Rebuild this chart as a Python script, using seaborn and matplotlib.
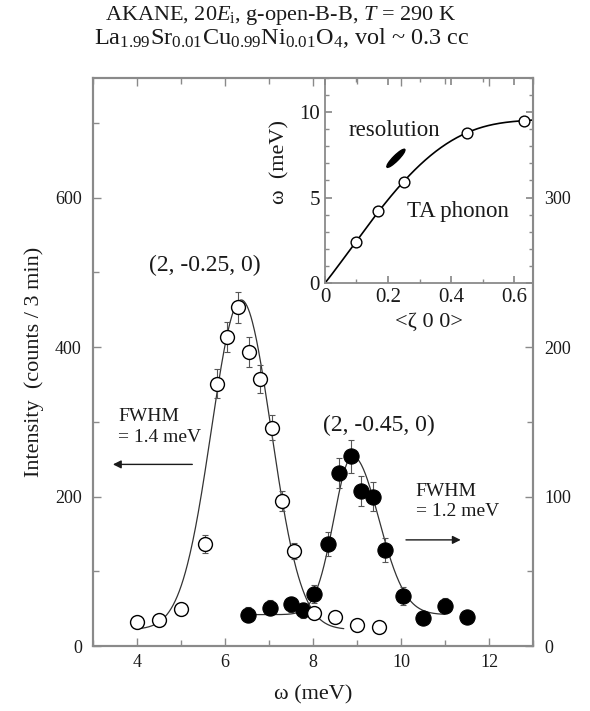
import numpy as np
import pandas as pd
import matplotlib
matplotlib.use("Agg")
import matplotlib.pyplot as plt
import matplotlib.transforms as mtransforms
from matplotlib.patches import Ellipse
from matplotlib.ticker import MultipleLocator
import seaborn as sns

# ---- energy scans ---------------------------------------------------------
# (2, -0.25, 0): open circles, left axis
open_omega = [4.0, 4.5, 5.0, 5.55, 5.82, 6.05, 6.3, 6.55, 6.8, 7.07, 7.3, 7.57,
              8.03, 8.5, 9.0, 9.5]
open_counts = [32, 35, 50, 136, 351, 413, 453, 393, 357, 292, 194, 127,
               44, 39, 28, 26]
open_err = [6, 6, 7, 12, 19, 20, 21, 20, 19, 17, 14, 11, 7, 6, 5, 5]

# (2, -0.45, 0): filled circles, right axis
filled_omega = [6.52, 7.03, 7.5, 7.77, 8.02, 8.35, 8.6, 8.86, 9.1, 9.36, 9.63,
                10.05, 10.5, 11.0, 11.5]
filled_counts = [21, 25.5, 28, 24, 35, 68, 116, 127, 104, 100, 64, 33.5, 19,
                 27, 19.5]
filled_err = [5, 5, 5, 5, 6, 8, 10, 11, 10, 10, 8, 6, 4, 5, 4]

# fitted peak profiles: centre, peak height, background, left/right half widths, range
open_fit = dict(center=6.37, peak=463, bg=22, hw_left=0.80, hw_right=0.80, lo=4.1, hi=8.7)
filled_fit = dict(center=8.9, peak=127, bg=21, hw_left=0.50, hw_right=0.70, lo=6.6, hi=11.0)

# ---- TA phonon dispersion (inset) ----------------------------------------
zeta = [0.1, 0.167, 0.25, 0.45, 0.63]
omega_ta = [2.4, 4.2, 5.9, 8.8, 9.5]
resolution = dict(zeta=0.225, omega=7.3, length_in=0.25, width_in=0.055, angle=45)

peak_labels = ["(2, -0.25, 0)", "(2, -0.45, 0)"]


def split_gauss(x, center, peak, bg, hw_left, hw_right, **_):
    hw = np.where(x < center, hw_left, hw_right)
    sigma = hw / np.sqrt(2 * np.log(2))
    return bg + (peak - bg) * np.exp(-0.5 * ((x - center) / sigma) ** 2)


sns.set_theme(style="ticks")
plt.rcParams["font.family"] = ["Liberation Serif", "DejaVu Serif"]
plt.rcParams["mathtext.fontset"] = "custom"
plt.rcParams["mathtext.rm"] = "Liberation Serif"
plt.rcParams["mathtext.it"] = "Liberation Serif:italic"

SPINE = "#8a8a8a"
TXT = "#1a1a1a"

fig = plt.figure(figsize=(5.90, 7.11), dpi=100)
ax = fig.add_axes([0.1576, 0.0914, 0.7458, 0.7989])
ax2 = ax.twinx()

df_open = pd.DataFrame({"omega": open_omega, "counts": open_counts})
df_filled = pd.DataFrame({"omega": filled_omega, "counts": filled_counts})

# fit curves
xo = np.linspace(open_fit["lo"], open_fit["hi"], 300)
xf = np.linspace(filled_fit["lo"], filled_fit["hi"], 300)
sns.lineplot(x=xo, y=split_gauss(xo, **open_fit), ax=ax, color="#333333", lw=0.9, zorder=2)
sns.lineplot(x=xf, y=split_gauss(xf, **filled_fit), ax=ax2, color="#333333", lw=0.9, zorder=2)

# error bars and points
ax2.errorbar(filled_omega, filled_counts, yerr=filled_err, fmt="none",
             ecolor="#555555", elinewidth=0.8, capsize=2.5, capthick=0.8, zorder=3)
sns.scatterplot(data=df_filled, x="omega", y="counts", ax=ax2, s=120,
                color="black", edgecolor="black", linewidth=0.8, zorder=4)
ax.errorbar(open_omega, open_counts, yerr=open_err, fmt="none",
            ecolor="#555555", elinewidth=0.8, capsize=2.5, capthick=0.8, zorder=3)
sns.scatterplot(data=df_open, x="omega", y="counts", ax=ax, s=100,
                color="white", edgecolor="black", linewidth=1.0, zorder=4)

ax.set_zorder(ax2.get_zorder() + 1)
ax.patch.set_visible(False)

ax.set_xlim(3, 13)
ax.set_ylim(0, 760)
ax2.set_ylim(0, 380)
ax.xaxis.set_major_locator(MultipleLocator(2))
ax.xaxis.set_minor_locator(MultipleLocator(1))
ax.yaxis.set_major_locator(MultipleLocator(200))
ax.yaxis.set_minor_locator(MultipleLocator(100))
ax2.yaxis.set_major_locator(MultipleLocator(100))
ax2.yaxis.set_minor_locator(MultipleLocator(50))

for a in (ax, ax2):
    for s in a.spines.values():
        s.set_color(SPINE)
        s.set_linewidth(1.5)
    a.tick_params(which="both", direction="in", color=SPINE, width=1.0,
                  labelsize=13, labelcolor=TXT)
    a.tick_params(which="major", length=6)
    a.tick_params(which="minor", length=4)
ax.tick_params(axis="x", which="both", top=True, pad=6)
ax.tick_params(axis="y", which="both", right=False, pad=8)
ax2.tick_params(axis="y", which="both", left=False, pad=8)

ax.set_xlabel("ω (meV)", fontsize=16, color=TXT, labelpad=10)
ax.set_ylabel("Intensity  (counts / 3 min)", fontsize=16, color=TXT, labelpad=8)
ax2.set_ylabel("")

# annotations
ax.text(5.55, 509, peak_labels[0], ha="center", va="center", fontsize=17, color=TXT)
ax.text(9.5, 295, peak_labels[1], ha="center", va="center", fontsize=17, color=TXT)
ax.text(3.57, 293, "FWHM\n= 1.4 meV", ha="left", va="center", fontsize=14,
        color=TXT, linespacing=1.25)
ax.text(10.33, 193, "FWHM\n= 1.2 meV", ha="left", va="center", fontsize=14,
        color=TXT, linespacing=1.25)
ax.annotate("", xy=(3.39, 243), xytext=(5.32, 243),
            arrowprops=dict(arrowstyle="-|>", color=TXT, lw=1.0, mutation_scale=12))
ax.annotate("", xy=(11.42, 142), xytext=(10.05, 142),
            arrowprops=dict(arrowstyle="-|>", color=TXT, lw=1.0, mutation_scale=12))

# titles
fig.text(0.475, 0.9719, "AKANE, 20$\\mathit{E}_{\\mathrm{i}}$, g-open-B-B, $\\mathit{T}$ = 290 K",
         ha="center", va="baseline", fontsize=16, color=TXT)
fig.text(0.477, 0.938,
         "La$_{1.99}$Sr$_{0.01}$Cu$_{0.99}$Ni$_{0.01}$O$_4$, vol ~ 0.3 cc",
         ha="center", va="baseline", fontsize=17.5, color=TXT)

# ---- inset: dispersion ----------------------------------------------------
axi = fig.add_axes([0.5508, 0.602, 0.3526, 0.2883])
coef = np.polyfit([0.0] + zeta, [0.0] + omega_ta, 4)
zc = np.linspace(0, 0.66, 200)
sns.lineplot(x=zc, y=np.polyval(coef, zc), ax=axi, color="black", lw=1.2, zorder=2)
sns.scatterplot(x=zeta, y=omega_ta, ax=axi, s=60, color="white",
                edgecolor="black", linewidth=1.0, zorder=3)
ell = Ellipse((0, 0), width=resolution["length_in"], height=resolution["width_in"],
              angle=resolution["angle"], color="black",
              transform=fig.dpi_scale_trans + mtransforms.ScaledTranslation(
                  resolution["zeta"], resolution["omega"], axi.transData))
axi.add_patch(ell)
axi.text(0.076, 8.9, "resolution", ha="left", va="center", fontsize=16.5, color=TXT)
axi.text(0.26, 4.2, "TA phonon", ha="left", va="center", fontsize=16.5, color=TXT)

axi.set_xlim(0, 0.66)
axi.set_ylim(0, 12)
axi.xaxis.set_major_locator(MultipleLocator(0.2))
axi.xaxis.set_minor_locator(MultipleLocator(0.1))
axi.yaxis.set_major_locator(MultipleLocator(5))
axi.yaxis.set_minor_locator(MultipleLocator(1))
axi.set_xticklabels(["0" if t == 0 else f"{t:.1f}" for t in axi.get_xticks()])
for s in axi.spines.values():
    s.set_color(SPINE)
    s.set_linewidth(1.3)
axi.tick_params(which="both", direction="in", color=SPINE, top=True, right=True,
                labelsize=15, labelcolor=TXT)
axi.tick_params(which="major", length=5)
axi.tick_params(which="minor", length=3)
axi.set_xlabel("<ζ 0 0>", fontsize=16, color=TXT, labelpad=4)
axi.set_ylabel("ω  (meV)", fontsize=16, color=TXT)
axi.yaxis.set_label_coords(-0.17, 0.59)

fig.savefig("out.png", dpi=100, facecolor="white")
